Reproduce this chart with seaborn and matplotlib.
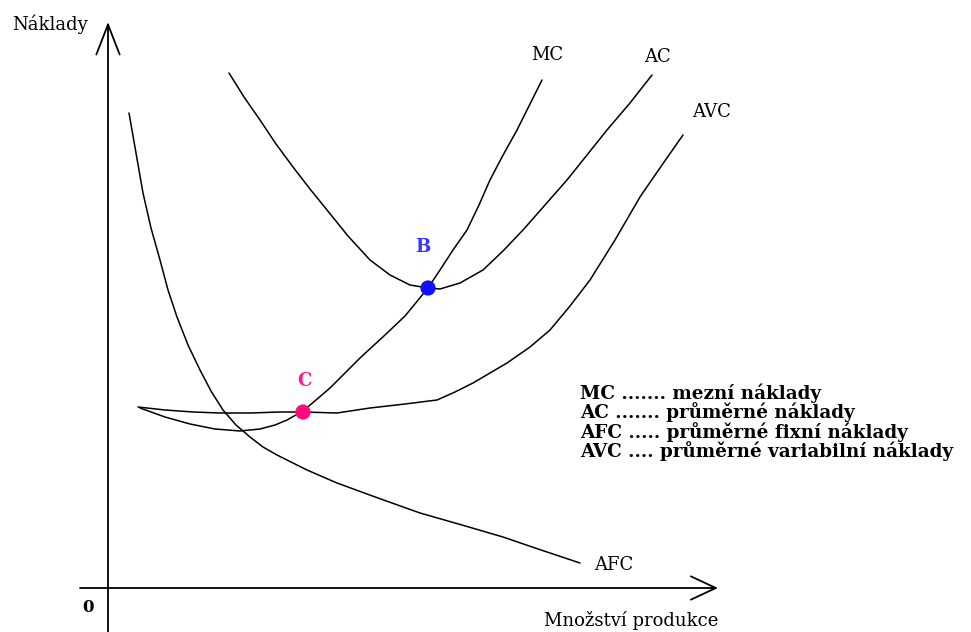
import matplotlib
matplotlib.use("Agg")
import matplotlib.pyplot as plt
import seaborn as sns

# ===== data (origin = intersection of the axes) =====
afc_x = [21, 28, 35, 43, 52, 60, 69, 80, 92, 103, 115, 128, 142, 155, 169, 199, 229, 270, 312, 354, 395, 433, 472]
afc_y = [475, 435, 395, 360, 328, 298, 271, 243, 218, 197, 178, 163, 151, 141, 133, 118, 105, 90, 75, 63, 51, 38, 25]

mc_x = [32, 57, 82, 107, 132, 152, 167, 179, 195, 208, 222, 237, 252, 265, 277, 297, 320, 332, 345, 359, 371, 382, 394, 409, 422, 434]
mc_y = [180, 171, 164, 159, 157, 159, 163, 168, 177, 188, 200, 215, 230, 242, 253, 272, 300, 318, 338, 358, 383, 408, 431, 458, 484, 508]

ac_x = [121, 136, 152, 168, 185, 202, 219, 240, 262, 282, 302, 320, 332, 352, 375, 395, 415, 437, 459, 479, 499, 522, 544]
ac_y = [515, 491, 468, 444, 421, 399, 378, 352, 328, 313, 303, 300, 299, 305, 318, 337, 358, 383, 408, 433, 458, 485, 513]

avc_x = [30, 57, 85, 112, 142, 172, 195, 229, 262, 297, 329, 347, 365, 382, 399, 422, 442, 462, 482, 507, 532, 554, 575]
avc_y = [181, 178, 176, 175, 175, 176, 176, 175, 180, 184, 188, 196, 205, 215, 225, 241, 258, 282, 308, 348, 391, 423, 453]

point_names = ["B", "C"]
point_x = [320, 195]
point_y = [300, 176]
point_colors = ["#1010ff", "#ff0a80"]

curve_labels = ["MC", "AC", "AVC", "AFC"]
legend_lines = [
    "MC ....... mezní náklady",
    "AC ....... průměrné náklady",
    "AFC ..... průměrné fixní náklady",
    "AVC .... průměrné variabilní náklady",
]

# ===== plot =====
sns.set_theme(style="white")
plt.rcParams['font.family'] = ['DejaVu Serif']
plt.rcParams['text.color'] = 'black'

fig = plt.figure(figsize=(9.71, 6.32), dpi=100)
ax = fig.add_axes([0, 0, 1, 1])
ax.set_xlim(-108, 863)
ax.set_ylim(-44, 588)
ax.axis('off')

# axes with open arrow heads
ax.annotate('', xy=(0, 566), xytext=(0, -44),
            arrowprops=dict(arrowstyle='->,head_length=1.8,head_width=0.7',
                            lw=1.3, color='black', shrinkA=0, shrinkB=0))
ax.annotate('', xy=(610, 0), xytext=(-28, 0),
            arrowprops=dict(arrowstyle='->,head_length=1.5,head_width=0.7',
                            lw=1.3, color='black', shrinkA=0, shrinkB=0))

for xs, ys in [(afc_x, afc_y), (mc_x, mc_y), (ac_x, ac_y), (avc_x, avc_y)]:
    sns.lineplot(x=xs, y=ys, sort=False, estimator=None, color='black',
                 lw=1.1, ax=ax, solid_joinstyle='round')

sns.scatterplot(x=point_x, y=point_y, hue=point_names, palette=point_colors,
                s=120, edgecolor='none', legend=False, ax=ax, zorder=5)

# texts
ax.text(-96, 564, "Náklady", fontsize=13, va='center', ha='left')
ax.text(-20, -20, "0", fontsize=12, fontweight='bold', va='center', ha='center')
ax.text(610, -32, "Množství produkce", fontsize=13, va='center', ha='right')

label_pos = [(439, 533, 'center'), (549, 531, 'center'), (604, 476, 'center'), (486, 23, 'left')]
for lab, (lx, ly, ha) in zip(curve_labels, label_pos):
    ax.text(lx, ly, lab, fontsize=13, va='center', ha=ha)

ax.text(315, 341, point_names[0], color='#3535ff', fontsize=13, fontweight='bold',
        va='center', ha='center')
ax.text(196, 207, point_names[1], color='#ff1a8c', fontsize=13, fontweight='bold',
        va='center', ha='center')

for i, line in enumerate(legend_lines):
    ax.text(472, 195 - i * 19.5, line, fontsize=13.2, fontweight='bold',
            va='center', ha='left')

fig.savefig('out.png', dpi=100)
